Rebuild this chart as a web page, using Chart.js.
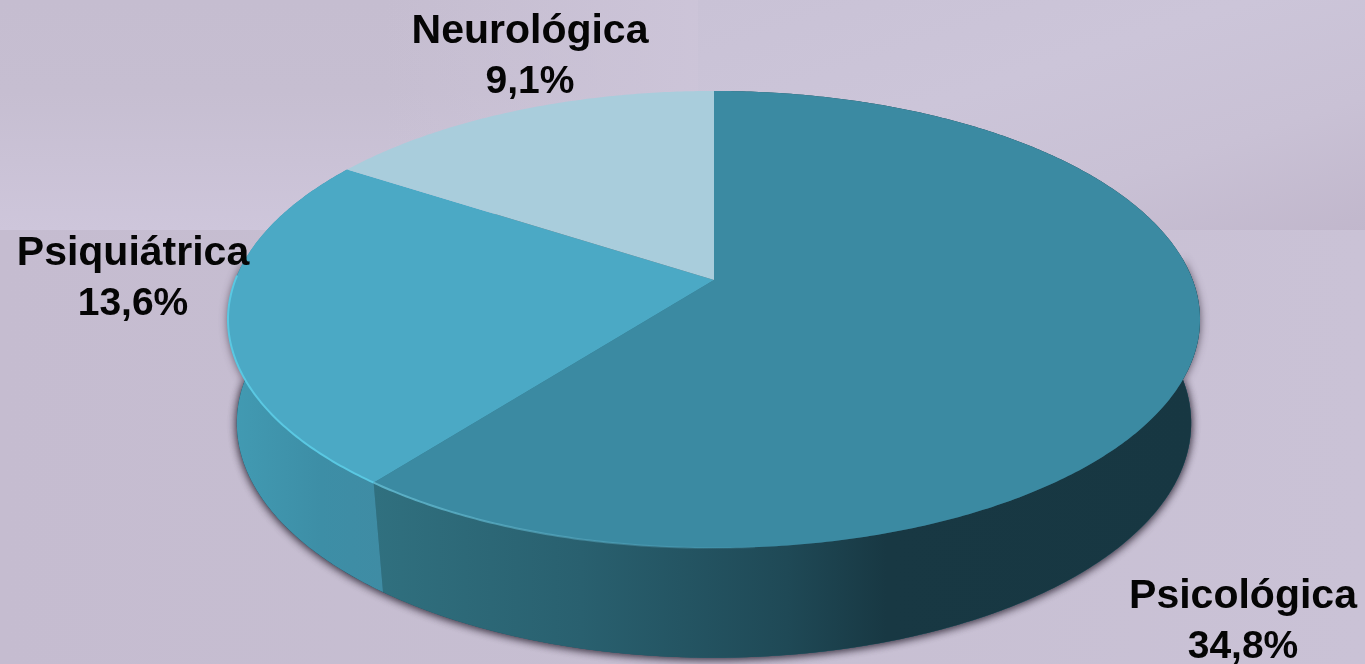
<!DOCTYPE html>
<html>
<head>
<meta charset="utf-8">
<title>Pie</title>
<script src="https://cdn.jsdelivr.net/npm/chart.js@4/dist/chart.umd.min.js"></script>
<style>
    html, body { margin: 0; padding: 0; width: 1365px; height: 664px; overflow: hidden; background: #c8c0d3; }
    .tile { position: absolute; }
    #tileLeft { left: 0; top: 0; width: 698px; height: 230px; background: linear-gradient(90deg, rgba(205,197,217,0) 55%, rgba(205,197,217,0.9) 100%), linear-gradient(180deg, #c5bdd0 0%, #c6bed1 40%, #cec6db 100%); }
    #tileRight { left: 698px; top: 0; width: 667px; height: 232px; background: linear-gradient(162deg, #c9c2d6 0%, #ccc5d9 40%, #c9c1d5 70%, #c1b7cc 100%); }
    #tileBottom { left: 0; top: 230px; width: 1365px; height: 434px; background: linear-gradient(90deg, #c5bcd0 0%, #c7bfd2 50%, #cac2d6 100%); }
    canvas { position: absolute; left: 0; top: 0; }
</style>
</head>
<body>
<div class="tile" id="tileLeft"></div>
<div class="tile" id="tileRight"></div>
<div class="tile" id="tileBottom"></div>
<canvas id="chart" width="1365" height="664"></canvas>
<script>
const categories = ["Psicológica", "Psiquiátrica", "Neurológica"];
const percentages = [34.8, 13.6, 9.1];
const topColors = ["#3b8aa2", "#4ba9c5", "#a9cddc"];

// label anchors: centre x, first baseline
const labelSpots = [[1243, 608], [133, 265], [530, 43]];

// the disc is tilted, so the centre sits above the middle of the ellipse
const topFace = { x: 714, k: 478.7, a: 173.3, b: 280, c: -0.1729 };
const bottomFace = { x: 714, k: 471, a: 167, b: 385.5, c: -0.16 };

function project(face, angle) {
    const u = Math.cos(angle), v = Math.sin(angle);
    const d = 1 + face.c * v;
    return [face.x + face.k * u / d, (face.a * v + face.b) / d];
}

function rim(ctx, face, from, to, move) {
    const steps = Math.max(2, Math.ceil(Math.abs(to - from) / 0.01));
    for (let i = 0; i <= steps; i++) {
        const p = project(face, from + (to - from) * i / steps);
        if (i === 0 && move) ctx.moveTo(p[0], p[1]);
        else ctx.lineTo(p[0], p[1]);
    }
}

function wallPath(ctx, from, to) {
    ctx.beginPath();
    rim(ctx, topFace, from, to, true);
    rim(ctx, bottomFace, to, from, false);
    ctx.closePath();
}

function wallFill(ctx, index) {
    let g;
    if (index === 0) {
        g = ctx.createLinearGradient(375, 0, 1200, 0);
        g.addColorStop(0, "#30707f");
        g.addColorStop(0.25, "#29606f");
        g.addColorStop(0.5, "#1f4956");
        g.addColorStop(0.62, "#183843");
        g.addColorStop(1, "#173742");
    } else {
        g = ctx.createLinearGradient(228, 0, 383, 0);
        g.addColorStop(0, "#429bb3");
        g.addColorStop(0.6, "#3d8ea6");
        g.addColorStop(1, "#3f8ca4");
    }
    return g;
}

const tiltedPie = {
    id: "tiltedPie",
    beforeDatasetDraw(chart, args) {
        const ctx = chart.ctx;
        const arcs = chart.getDatasetMeta(args.index).data;
        ctx.save();

        // soft shadow under the whole disc
        ctx.save();
        ctx.shadowColor = "rgba(60,52,68,0.8)";
        ctx.shadowBlur = 8;
        ctx.shadowOffsetY = 1;
        ctx.fillStyle = "#2a5f70";
        ctx.beginPath();
        rim(ctx, bottomFace, 0, Math.PI * 2, true);
        ctx.closePath();
        ctx.fill();
        wallPath(ctx, -0.1, Math.PI + 0.1);
        ctx.fill();
        ctx.restore();

        arcs.forEach((arc, i) => {
            if (i === 2) return;
            wallPath(ctx, arc.startAngle, arc.endAngle);
            ctx.fillStyle = wallFill(ctx, i);
            ctx.fill();
        });

        arcs.forEach((arc, i) => {
            ctx.beginPath();
            ctx.moveTo(topFace.x, topFace.b);
            rim(ctx, topFace, arc.startAngle, arc.endAngle, false);
            ctx.closePath();
            ctx.fillStyle = topColors[i];
            ctx.fill();
        });

        // lit edge along the front of the top face
        const seam = arcs[0].endAngle;
        let edge = ctx.createLinearGradient(375, 0, 800, 0);
        edge.addColorStop(0, "#5db3c9");
        edge.addColorStop(1, "rgba(90,170,195,0)");
        ctx.strokeStyle = edge;
        ctx.lineWidth = 2;
        ctx.beginPath();
        rim(ctx, topFace, seam, 1.5, true);
        ctx.stroke();
        ctx.strokeStyle = "#5ac8e2";
        ctx.beginPath();
        rim(ctx, topFace, seam, Math.PI + 0.02, true);
        ctx.stroke();

        ctx.restore();
        return false;
    },
    afterDatasetsDraw(chart) {
        const ctx = chart.ctx;
        ctx.save();
        ctx.textAlign = "center";
        ctx.textBaseline = "alphabetic";
        ctx.fillStyle = "#050505";
        categories.forEach((name, i) => {
            const spot = labelSpots[i];
            ctx.font = "bold 41px 'Liberation Sans', Arial, sans-serif";
            ctx.fillText(name, spot[0], spot[1]);
            ctx.font = "bold 39px 'Liberation Sans', Arial, sans-serif";
            ctx.fillText(percentages[i].toFixed(1).replace(".", ",") + "%", spot[0], spot[1] + 50);
        });
        ctx.restore();
    }
};

new Chart(document.getElementById("chart"), {
    type: "pie",
    data: {
        labels: categories,
        datasets: [{ data: percentages, backgroundColor: topColors, borderWidth: 0 }]
    },
    options: {
        responsive: false,
        animation: false,
        plugins: { legend: { display: false }, tooltip: { enabled: false } }
    },
    plugins: [tiltedPie]
});
</script>
</body>
</html>
